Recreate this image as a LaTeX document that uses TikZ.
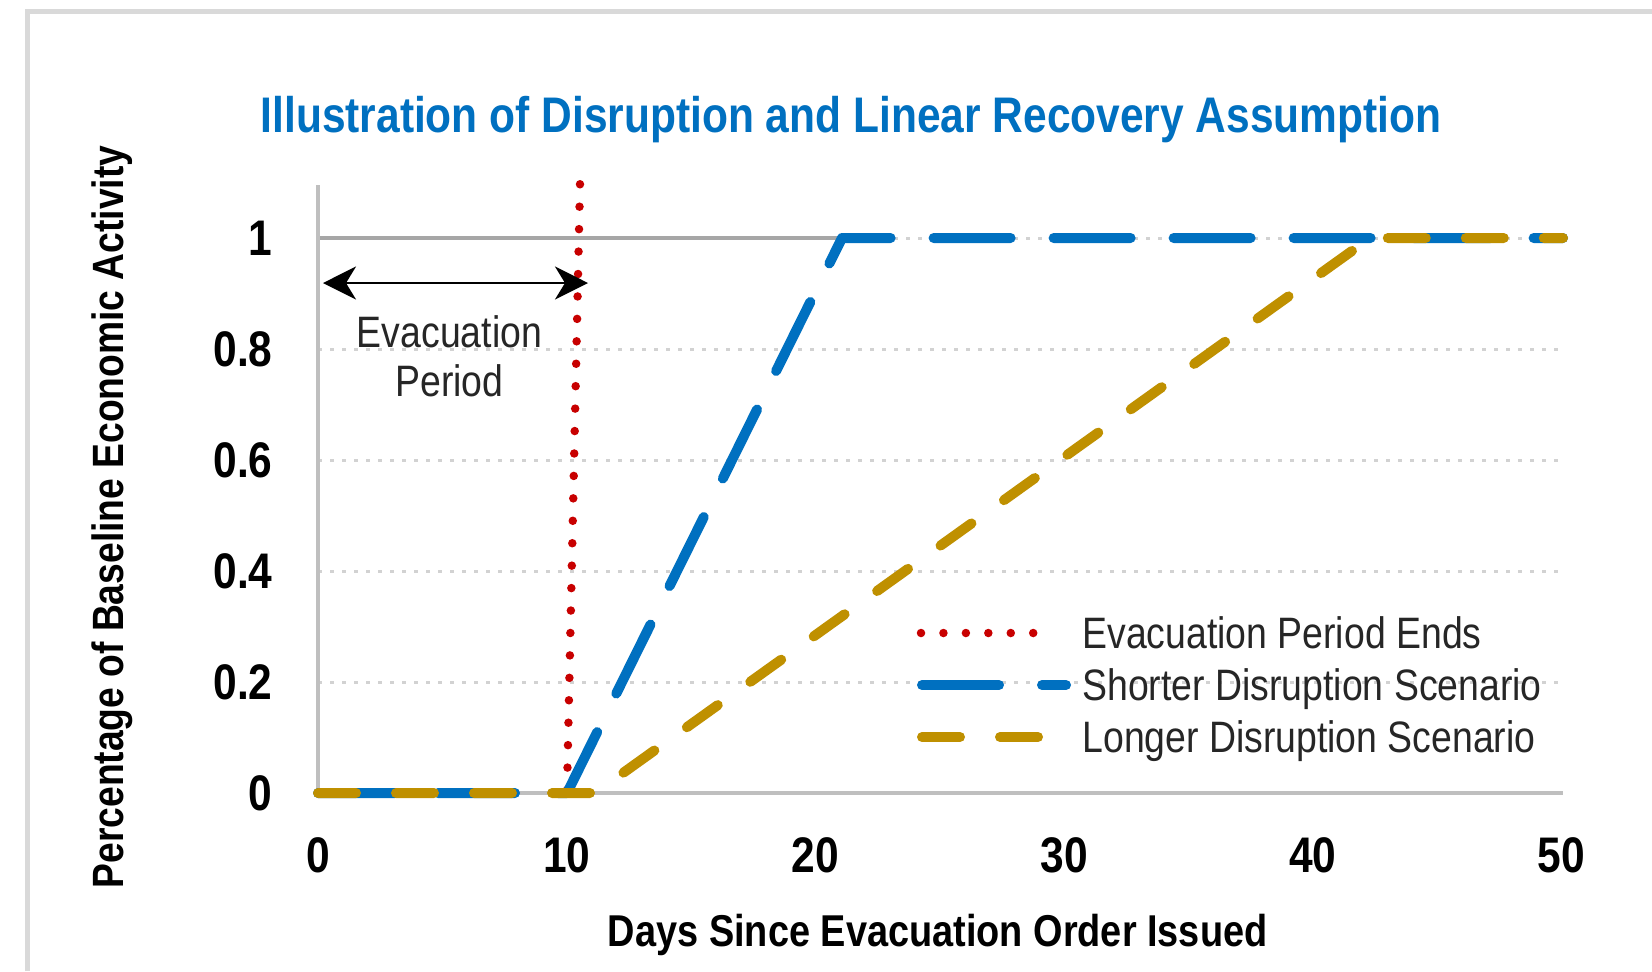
\documentclass[tikz,border=0pt]{standalone}
\usepackage{fontspec}
\setmainfont{Liberation Sans}[FakeStretch=0.85]
\usetikzlibrary{arrows.meta}
\definecolor{ttlblue}{RGB}{0,112,192}
\definecolor{goldc}{RGB}{191,144,0}
\definecolor{evred}{RGB}{200,0,0}
\definecolor{axisgray}{RGB}{191,191,191}
\definecolor{gridgray}{RGB}{210,210,210}
\definecolor{basegray}{RGB}{166,166,166}
\definecolor{framegray}{RGB}{217,217,217}
\tikzset{
  ticklbl/.style={inner sep=0pt, font=\bfseries\fontsize{25}{30}\selectfont},
  legtext/.style={inner sep=0pt, anchor=base west, font=\fontsize{22}{26}\selectfont, text=black!85},
  gridline/.style={draw=gridgray, line width=1.5pt, dash pattern=on 2pt off 4pt},
  bluecurve/.style={draw=ttlblue, line width=5pt, line cap=round, line join=round, dash pattern=on 38.5pt off 21.5pt},
  goldcurve/.style={draw=goldc, line width=5pt, line cap=round, line join=round, dash pattern=on 19pt off 20pt},
  redcurve/.style={draw=evred, line width=4.25pt, line cap=round, dash pattern=on 0pt off 11.22pt},
}
\begin{document}
\begin{tikzpicture}[x=0.5pt, y=-0.5pt]
\useasboundingbox (0,0) rectangle (1652,971);
\fill[white] (0,0) rectangle (1652,971);
% frame
\draw[framegray, line width=2.5pt] (27.5,971) -- (27.5,11.5) -- (1652,11.5);
% title
\node[inner sep=0pt, anchor=base, text=ttlblue, font=\bfseries\fontsize{25}{30}\selectfont] (title) at (851,132) {Illustration of Disruption and Linear Recovery Assumption};
% gridlines
\foreach \v/\n in {0.2/g2,0.4/g4,0.6/g6,0.8/g8,1.0/g10}{
  \coordinate (\n L) at (318,{793-555*\v});
  \coordinate (\n R) at (1563,{793-555*\v});
  \draw[gridline] (\n L) -- (\n R);
}
% baseline solid at 1
\coordinate (base1L) at (318,238);
\coordinate (base1R) at (842,238);
\draw[basegray, line width=1.75pt] (base1L) -- (base1R);
% axes
\coordinate (origin) at (318,793);
\coordinate (ytop) at (318,185);
\coordinate (xend) at (1563,793);
\draw[axisgray, line width=1.75pt] (ytop) -- (origin);
\draw[axisgray, line width=2pt] (origin) -- (xend);
% y tick labels
\node[ticklbl, anchor=east] (yl0) at (273,793) {0};
\node[ticklbl, anchor=east] (yl2) at (273,682) {0.2};
\node[ticklbl, anchor=east] (yl4) at (273,571) {0.4};
\node[ticklbl, anchor=east] (yl6) at (273,460) {0.6};
\node[ticklbl, anchor=east] (yl8) at (273,349) {0.8};
\node[ticklbl, anchor=east] (yl10) at (273,238) {1};
% x tick labels
\node[ticklbl] (xl0) at (318,855) {0};
\node[ticklbl] (xl10) at (566.7,855) {10};
\node[ticklbl] (xl20) at (815.4,855) {20};
\node[ticklbl] (xl30) at (1064.1,855) {30};
\node[ticklbl] (xl40) at (1312.8,855) {40};
\node[ticklbl] (xl50) at (1561.5,855) {50};
% axis titles
\node[inner sep=0pt, anchor=base, font=\bfseries\fontsize{22.3}{26}\selectfont] (xtitle) at (937.7,946) {Days Since Evacuation Order Issued};
\node[inner sep=0pt, anchor=base, rotate=90, font=\bfseries\fontsize{21.9}{26}\selectfont] (ytitle) at (123,517) {Percentage of Baseline Economic Activity};
% red dotted line
\coordinate (redB) at (567,790);
\coordinate (redT) at (580,184);
\draw[redcurve] (redB) -- (redT);
% blue
\coordinate (b0) at (318,793);
\coordinate (b1) at (567,793);
\coordinate (b2) at (842,238);
\coordinate (b3) at (1563,238);
\draw[bluecurve] (b0) -- (b1) -- (b2) -- (b3);
% gold
\coordinate (c0) at (318,793);
\coordinate (c1) at (595,793);
\coordinate (c2) at (1370,238);
\coordinate (c3) at (1563,238);
\draw[goldcurve] (c0) -- (c1) -- (c2) -- (c3);
% arrow and annotation
\coordinate (arrL) at (323,283);
\coordinate (arrR) at (588,283);
\draw[black, line width=1.3pt, {Stealth[length=16.5pt,width=16.5pt,inset=5pt]}-{Stealth[length=16.5pt,width=16.5pt,inset=5pt]}] (arrL) -- (arrR);
\node[legtext, anchor=base] (evac1) at (449.5,347) {Evacuation};
\node[legtext, anchor=base] (evac2) at (449.5,396) {Period};
% legend
\coordinate (lr1) at (921,633); \coordinate (lr2) at (1053,633);
\coordinate (lb1) at (922,685); \coordinate (lb2) at (1066,685);
\coordinate (lg1) at (922,737); \coordinate (lg2) at (1066,737);
\draw[redcurve] (lr1) -- (lr2);
\draw[bluecurve] (lb1) -- (lb2);
\draw[goldcurve] (lg1) -- (lg2);
\node[legtext] (leg1) at (1082,648) {Evacuation Period Ends};
\node[legtext] (leg2) at (1082,700) {Shorter Disruption Scenario};
\node[legtext] (leg3) at (1082,752) {Longer Disruption Scenario};
\end{tikzpicture}
\end{document}
